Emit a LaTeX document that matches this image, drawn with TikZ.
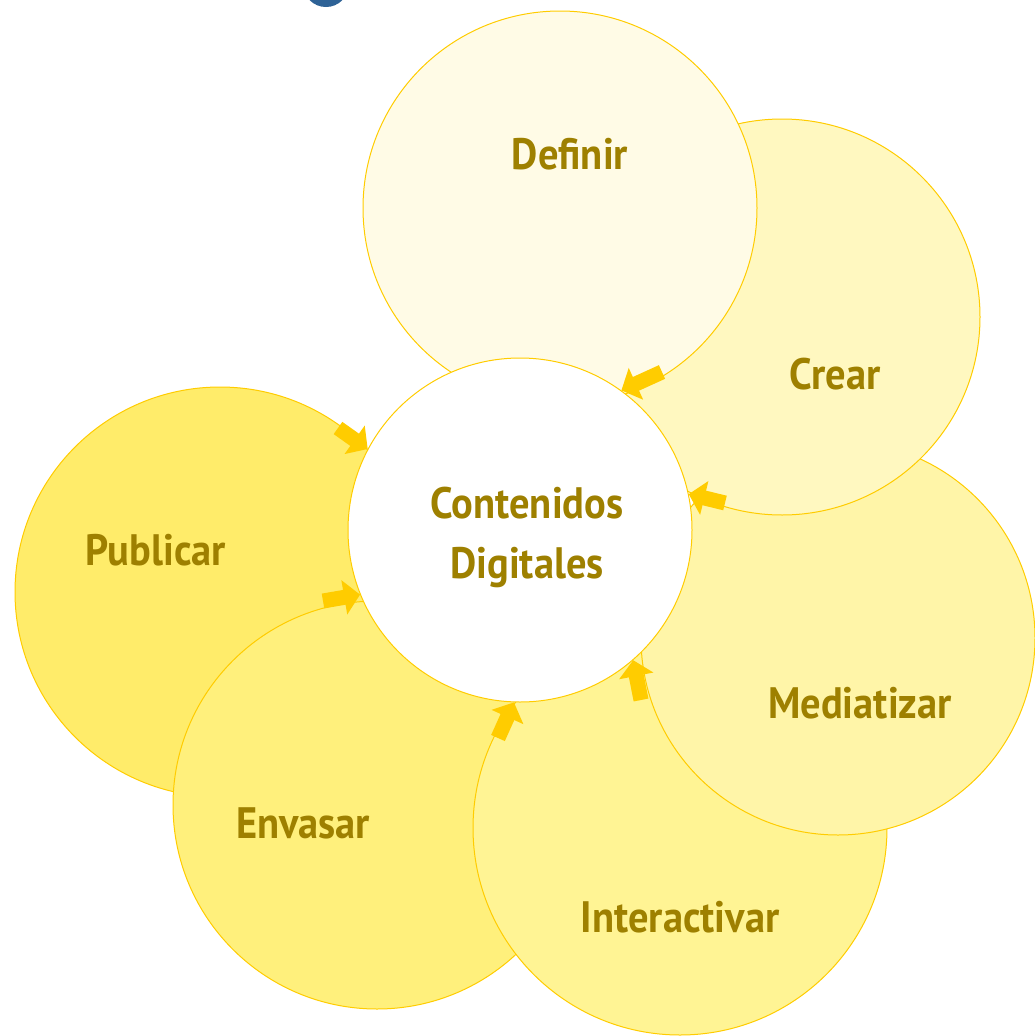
\documentclass[tikz,border=0pt]{standalone}
\usepackage{fontspec}
\newfontfamily\rotulo[FakeStretch=0.92]{PT Sans}
\usetikzlibrary{arrows.meta}

\definecolor{borde}{RGB}{255,204,0}
\definecolor{flechaamarilla}{RGB}{255,204,0}
\definecolor{texto}{RGB}{158,128,0}
\definecolor{azul}{RGB}{46,98,150}
\definecolor{cdefinir}{RGB}{255,251,230}
\definecolor{ccrear}{RGB}{255,248,192}
\definecolor{cmediatizar}{RGB}{255,245,168}
\definecolor{cinteractivar}{RGB}{255,244,148}
\definecolor{cenvasar}{RGB}{255,240,124}
\definecolor{cpublicar}{RGB}{255,236,106}

\tikzset{
	burbuja/.style={circle, draw=borde, line width=1pt, inner sep=0pt},
	etiqueta/.style={text=texto, font=\rotulo\bfseries\fontsize{44}{50}\selectfont, anchor=base, inner sep=0pt},
	flecha/.style={draw=flechaamarilla, line width=15pt, -{Triangle[length=16pt,width=34pt]}}
}

\begin{document}
\begin{tikzpicture}[x=1pt, y=-1pt]
			%%%%% START %%%%%
			\useasboundingbox (0,0) rectangle (1035,1036);
			
			\draw[line width=7pt, color=azul] (326,-15) ellipse (19 and 18.5);
			
			\node[burbuja, fill=cpublicar, minimum size=410pt] (publicar) at (220,592) {};
			\node[burbuja, fill=cenvasar, minimum size=408pt] (envasar) at (377,805) {};
			\node[burbuja, fill=cinteractivar, minimum size=414pt] (interactivar) at (680,828) {};
			\node[burbuja, fill=cmediatizar, minimum size=394pt] (mediatizar) at (838,638) {};
			\node[burbuja, fill=ccrear, minimum size=396pt] (crear) at (782,317) {};
			\node[burbuja, fill=cdefinir, minimum size=394pt] (definir) at (560,208) {};
			\node[burbuja, fill=white, minimum size=344pt] (centro) at (520,530) {};
			
			\node[etiqueta] (t-definir) at (570,169) {Definir};
			\node[etiqueta] (t-crear) at (835,389) {Crear};
			\node[etiqueta] (t-mediatizar) at (860,718) {Mediatizar};
			\node[etiqueta] (t-interactivar) at (680,932) {Interactivar};
			\node[etiqueta] (t-envasar) at (303,838) {Envasar};
			\node[etiqueta] (t-publicar) at (156,565) {Publicar};
			\node[etiqueta] (t-contenidos) at (527,518) {Contenidos};
			\node[etiqueta] (t-digitales) at (527,578) {Digitales};
			
			\coordinate (desde-definir) at (662,372);
			\coordinate (desde-crear) at (725,503);
			\coordinate (desde-mediatizar) at (641,700);
			\coordinate (desde-interactivar) at (498,738);
			\coordinate (desde-envasar) at (323,601);
			\coordinate (desde-publicar) at (338,428);
			
			\draw[flecha] (desde-definir) -- (centro.54);
			\draw[flecha] (desde-crear) -- (centro.12);
			\draw[flecha] (desde-mediatizar) -- (centro.-49);
			\draw[flecha] (desde-interactivar) -- (centro.-92);
			\draw[flecha] (desde-envasar) -- (centro.202);
			\draw[flecha] (desde-publicar) -- (centro.152);
			
			%%%%% END %%%%%
\end{tikzpicture}
\end{document}
